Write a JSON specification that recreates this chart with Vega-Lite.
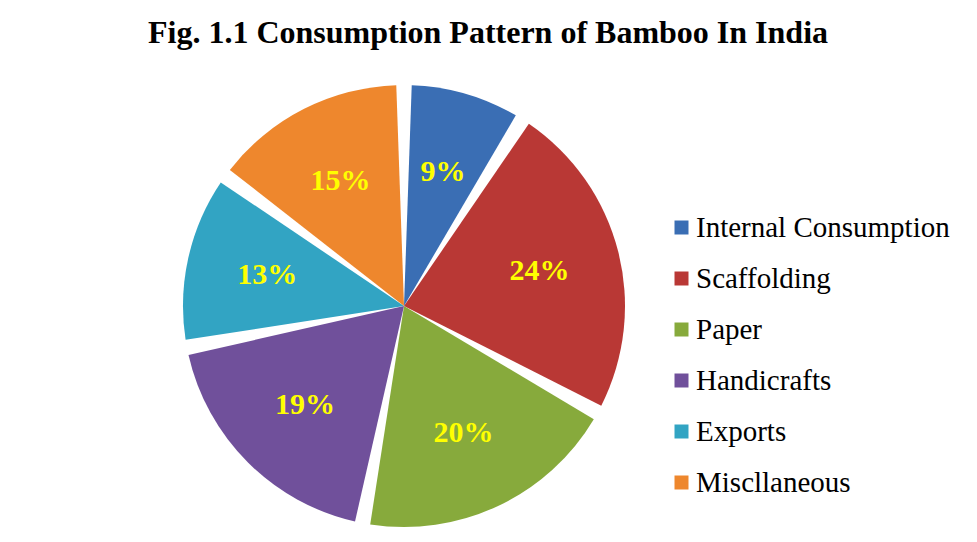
{
  "$schema": "https://vega.github.io/schema/vega-lite/v6.json",
  "width": 808,
  "height": 452,
  "autosize": {"type": "none"},
  "padding": {"left": 0, "top": 80, "right": 169, "bottom": 10},
  "background": "white",
  "title": {
    "text": "Fig. 1.1 Consumption Pattern of Bamboo In India",
    "font": "Liberation Serif",
    "fontSize": 32,
    "fontWeight": "bold",
    "color": "black",
    "anchor": "middle",
    "frame": "group",
    "dx": 84,
    "baseline": "alphabetic",
    "offset": 5
  },
  "data": {
    "values": [
      {"category": "Internal Consumption", "share": 0.09, "idx": 1},
      {"category": "Scaffolding", "share": 0.24, "idx": 2},
      {"category": "Paper", "share": 0.20, "idx": 3},
      {"category": "Handicrafts", "share": 0.19, "idx": 4},
      {"category": "Exports", "share": 0.13, "idx": 5},
      {"category": "Miscllaneous", "share": 0.15, "idx": 6}
    ]
  },
  "encoding": {
    "theta": {"field": "share", "type": "quantitative", "stack": true},
    "order": {"field": "idx", "type": "quantitative"},
    "color": {
      "field": "category",
      "type": "nominal",
      "scale": {
        "domain": ["Internal Consumption", "Scaffolding", "Paper", "Handicrafts", "Exports", "Miscllaneous"],
        "range": ["#3A6EB4", "#B93835", "#87AA3C", "#70509B", "#32A4C3", "#EE872D"]
      },
      "legend": {
        "title": null,
        "orient": "none",
        "legendX": 667,
        "legendY": 133,
        "padding": 0,
        "symbolType": "square",
        "symbolSize": 196,
        "symbolStrokeWidth": 0,
        "symbolOpacity": 1,
        "labelFont": "Liberation Serif",
        "labelFontSize": 29,
        "labelColor": "black",
        "labelOffset": 0,
        "labelLimit": 400,
        "rowPadding": 21
      }
    }
  },
  "layer": [
    {
      "mark": {"type": "arc", "outerRadius": 221, "padAngle": 0.07}
    },
    {
      "mark": {
        "type": "text",
        "radius": 140,
        "font": "Liberation Serif",
        "fontSize": 30,
        "fontWeight": "bold",
        "fill": "#FFFF00"
      },
      "encoding": {
        "text": {"field": "share", "type": "quantitative", "format": ".0%"},
        "color": {"value": "#FFFF00"}
      }
    }
  ],
  "config": {"view": {"stroke": null}}
}
